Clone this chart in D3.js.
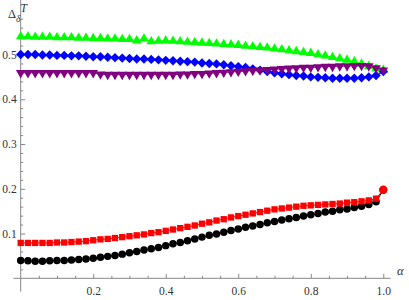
<!DOCTYPE html>
<html>
<head>
<meta charset="utf-8">
<script src="https://d3js.org/d3.v7.min.js"></script>
<style>
  body { margin: 0; background: #fff; }
  svg { display: block; }
  text { font-family: "Liberation Serif", "Times New Roman", serif; }
</style>
</head>
<body>
<script>
var width = 409;
var height = 300;

// alpha grid, step 0.02
var alpha = d3.range(51).map(function(i){ return +(i * 0.02).toFixed(2); });

var black = [0.040,0.039,0.038,0.038,0.039,0.040,0.040,0.041,0.042,0.043,
  0.045,0.047,0.049,0.051,0.054,0.057,0.060,0.063,0.066,0.069,
  0.073,0.077,0.080,0.084,0.088,0.092,0.096,0.099,0.103,0.107,
  0.110,0.114,0.117,0.120,0.124,0.127,0.130,0.133,0.136,0.139,
  0.142,0.145,0.148,0.150,0.153,0.155,0.158,0.161,0.165,0.171,0.197];

var red = [0.079,0.079,0.079,0.079,0.079,0.080,0.080,0.081,0.082,0.083,
  0.085,0.087,0.088,0.090,0.092,0.094,0.096,0.098,0.101,0.103,
  0.106,0.109,0.112,0.115,0.118,0.122,0.125,0.129,0.132,0.136,
  0.139,0.142,0.145,0.148,0.151,0.154,0.156,0.158,0.160,0.162,
  0.163,0.164,0.165,0.166,0.167,0.169,0.170,0.172,0.174,0.178,0.198];

var green = [0.540,0.540,0.539,0.539,0.539,0.538,0.538,0.538,0.537,0.537,
  0.536,0.536,0.535,0.535,0.534,0.534,0.531,0.535,0.529,0.530,
  0.531,0.530,0.529,0.528,0.527,0.526,0.525,0.524,0.523,0.522,
  0.521,0.519,0.518,0.516,0.515,0.513,0.511,0.509,0.507,0.505,
  0.503,0.500,0.497,0.494,0.491,0.488,0.484,0.479,0.474,0.468,0.465];

var blue = [0.500,0.500,0.500,0.499,0.499,0.498,0.498,0.497,0.497,0.496,
  0.495,0.495,0.494,0.493,0.492,0.491,0.490,0.490,0.489,0.488,
  0.487,0.486,0.485,0.484,0.483,0.481,0.480,0.479,0.477,0.475,
  0.473,0.471,0.468,0.465,0.462,0.459,0.457,0.455,0.453,0.452,
  0.450,0.449,0.448,0.447,0.447,0.447,0.447,0.448,0.450,0.453,0.462];

var purple = [0.459,0.459,0.459,0.459,0.459,0.459,0.459,0.459,0.459,0.459,
  0.459,0.456,0.455,0.455,0.455,0.455,0.455,0.455,0.455,0.455,
  0.455,0.455,0.456,0.456,0.457,0.457,0.458,0.459,0.460,0.461,
  0.462,0.463,0.464,0.465,0.466,0.467,0.468,0.469,0.470,0.471,
  0.471,0.472,0.473,0.473,0.474,0.474,0.475,0.475,0.474,0.470,0.465];

var xTicks = [0.2, 0.4, 0.6, 0.8, 1.0];
var yTicks = [0.1, 0.2, 0.3, 0.4, 0.5];

var series = [
  {values: black, color: "#000000", symbol: d3.symbolCircle, size: 44},
  {values: red, color: "#ff0000", symbol: d3.symbolSquare, size: 40},
  {values: green, color: "#00ff00", symbol: d3.symbolTriangle, size: 40},
  {values: blue, color: "#0000ff", symbol: d3.symbolSquare, size: 44, rot: 45},
  {values: purple, color: "#800080", symbol: d3.symbolTriangle, size: 40, rot: 180}
];

var x = d3.scaleLinear().domain([0, 1]).range([20.7, 383.3]);
var y = d3.scaleLinear().domain([0, 0.5]).range([278.3, 54.5]);

var svg = d3.select("body").append("svg")
  .attr("width", width)
  .attr("height", height);

// axes
var axisColor = "#888";
var textColor = "#333";

svg.append("line")
  .attr("x1", x(-0.02)).attr("x2", x(1.02))
  .attr("y1", y(0)).attr("y2", y(0))
  .attr("stroke", axisColor).attr("stroke-width", 1);
svg.append("line")
  .attr("x1", x(0)).attr("x2", x(0))
  .attr("y1", y(-0.03)).attr("y2", 0)
  .attr("stroke", axisColor).attr("stroke-width", 1);

var xMinor = d3.range(1, 21).map(function(i){ return i * 0.05; })
  .filter(function(v){ return Math.abs(v * 5 - Math.round(v * 5)) > 1e-6; });
var yMinor = d3.range(1, 31).map(function(i){ return i * 0.02; })
  .filter(function(v){ return Math.abs(v * 10 - Math.round(v * 10)) > 1e-6; });

var xAxis = d3.axisBottom(x).tickValues(xTicks).tickSize(-4.5).tickPadding(9)
  .tickFormat(d3.format(".1f"));
var gx = svg.append("g").attr("transform", "translate(0," + y(0) + ")").call(xAxis);
var gxm = svg.append("g").attr("transform", "translate(0," + y(0) + ")")
  .call(d3.axisBottom(x).tickValues(xMinor).tickSize(-2.5).tickFormat(""));

var yAxis = d3.axisLeft(y).tickValues(yTicks).tickSize(-4.5).tickPadding(4)
  .tickFormat(d3.format(".1f"));
var gy = svg.append("g").attr("transform", "translate(" + x(0) + ",0)").call(yAxis);
var gym = svg.append("g").attr("transform", "translate(" + x(0) + ",0)")
  .call(d3.axisLeft(y).tickValues(yMinor).tickSize(-2.5).tickFormat(""));

[gx, gxm, gy, gym].forEach(function(g){
  g.attr("font-family", null);
  g.select(".domain").remove();
  g.selectAll(".tick line").attr("stroke", axisColor);
  g.selectAll(".tick text")
    .attr("fill", textColor)
    .attr("font-size", 11.5);
});

// series: thin joining lines plus markers
var line = d3.line()
  .x(function(d, i){ return x(alpha[i]); })
  .y(function(d){ return y(d); });

series.forEach(function(s, k){
  var g = svg.append("g").attr("class", "series" + k);
  g.append("path")
    .datum(s.values)
    .attr("d", line)
    .attr("fill", "none")
    .attr("stroke", s.color)
    .attr("stroke-width", 1);
  g.selectAll("path.mark")
    .data(s.values)
    .enter()
    .append("path")
    .attr("class", "mark")
    .attr("d", function(d, i){
      // last red point is drawn as a disk
      if (k === 1 && i === s.values.length - 1) return d3.symbol(d3.symbolCircle, 56)();
      return d3.symbol(s.symbol, s.size)();
    })
    .attr("transform", function(d, i){
      return "translate(" + x(alpha[i]) + "," + y(d) + ")" + (s.rot ? " rotate(" + s.rot + ")" : "");
    })
    .attr("fill", s.color);
});

// axis labels
var ylab = svg.append("text")
  .attr("x", 8).attr("y", 18)
  .attr("fill", textColor)
  .attr("font-size", 12.5);
ylab.append("tspan").text("\u0394");
ylab.append("tspan").attr("dy", 4).attr("font-size", 9.5).attr("font-style", "italic").text("\u03b4");
ylab.append("tspan").attr("dy", -10).attr("font-size", 11.5).attr("font-style", "italic").text("T");

svg.append("text")
  .attr("x", 397).attr("y", 275)
  .attr("fill", textColor)
  .attr("font-size", 12.5)
  .attr("font-style", "italic")
  .text("\u03b1");
</script>
</body>
</html>
